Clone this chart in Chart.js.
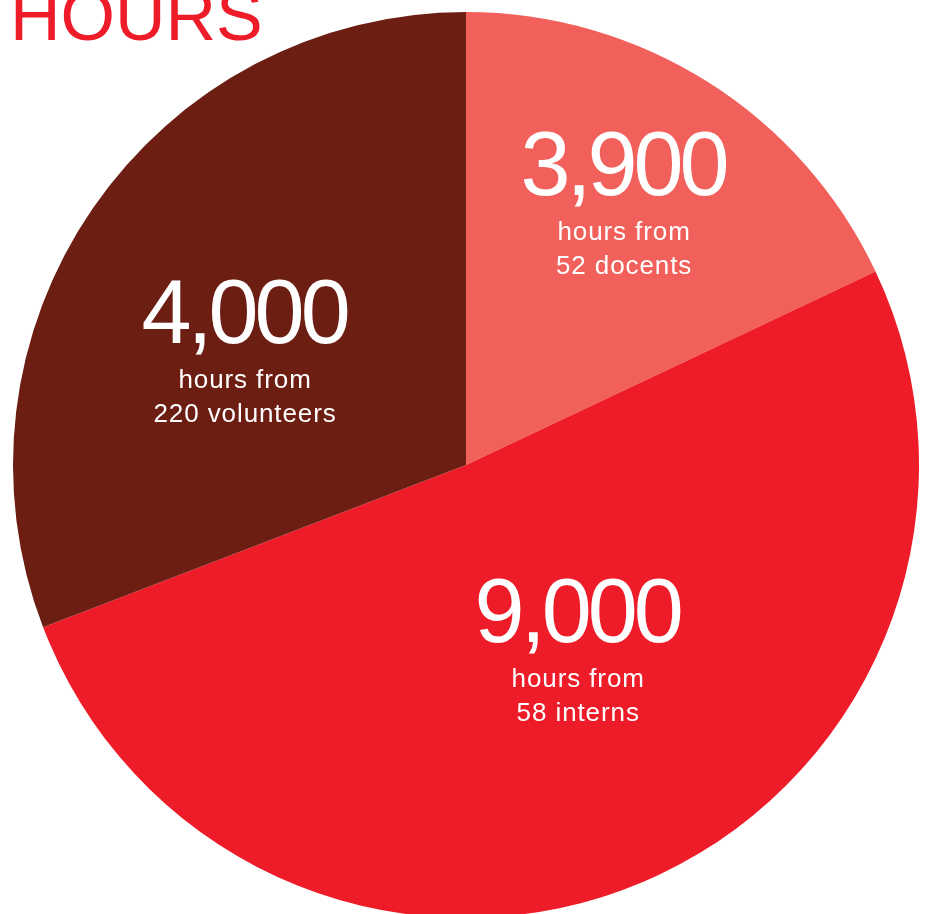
<!DOCTYPE html>
<html>
<head>
<meta charset="utf-8">
<script src="https://cdn.jsdelivr.net/npm/chart.js@4"></script>
<style>
  html, body { margin: 0; padding: 0; background: #ffffff; overflow: hidden; }
  #wrap { position: absolute; left: 0; top: 0; width: 928px; height: 920px; }
</style>
</head>
<body>
<div id="wrap"><canvas id="c"></canvas></div>
<script>
// ---- data ----
const titleText = "HOURS";
const categories = ["docents", "interns", "volunteers"];
const hoursLabels = ["3,900", "9,000", "4,000"];          // numbers printed on slices
const countLabels = ["52 docents", "58 interns", "220 volunteers"];
// slice sizes as drawn in the picture (degrees of the circle)
const sliceDegrees = [64.7, 184.3, 111.0];
const sliceColors = ["#F1605A", "#ED1C28", "#6C1E13"];

const labelPlugin = {
  id: 'sliceLabels',
  afterDraw(chart, args, opts) {
    const ctx = chart.ctx;
    // title
    ctx.save();
    ctx.fillStyle = opts.titleColor;
    ctx.font = opts.titleFont;
    ctx.textAlign = 'left';
    ctx.textBaseline = 'alphabetic';
    ctx.fillText(titleText, opts.titleX, opts.titleY);
    ctx.restore();

    const meta = chart.getDatasetMeta(0);
    meta.data.forEach((arc, i) => {
      const p = arc.getProps(['x', 'y', 'startAngle', 'endAngle', 'outerRadius'], true);
      const mid = (p.startAngle + p.endAngle) / 2 + opts.angleShift[i] * Math.PI / 180;
      const r = p.outerRadius * opts.radiusFrac[i];
      const x = p.x + r * Math.cos(mid);
      const y = p.y + r * Math.sin(mid);
      ctx.save();
      ctx.fillStyle = '#ffffff';
      ctx.textAlign = 'center';
      ctx.textBaseline = 'alphabetic';
      ctx.font = opts.bigFont;
      ctx.letterSpacing = opts.bigSpacing;
      ctx.fillText(hoursLabels[i], x + 1, y);
      ctx.font = opts.smallFont;
      ctx.letterSpacing = opts.smallSpacing;
      ctx.fillText('hours from', x + 2, y + 45);
      ctx.fillText(countLabels[i], x + 2, y + 79);
      ctx.restore();
    });
  }
};

new Chart(document.getElementById('c'), {
  type: 'pie',
  data: {
    labels: categories,
    datasets: [{
      data: sliceDegrees,
      backgroundColor: sliceColors,
      borderWidth: 0,
      hoverOffset: 0
    }]
  },
  options: {
    responsive: true,
    maintainAspectRatio: false,
    animation: false,
    events: [],
    layout: { padding: { left: 13, right: 9, top: 12, bottom: 2 } },
    plugins: {
      legend: { display: false },
      tooltip: { enabled: false },
      title: { display: false },
      sliceLabels: {
        titleColor: '#ED1C28',
        titleFont: '70px "Liberation Sans", Arial, sans-serif',
        titleX: 10,
        titleY: 40,
        bigFont: '90px "Liberation Sans", Arial, sans-serif',
        bigSpacing: '-4px',
        smallFont: '26px "Liberation Sans", Arial, sans-serif',
        smallSpacing: '0.9px',
        angleShift: [-2.35, -8.7, -5.8],
        radiusFrac: [0.689, 0.461, 0.561]
      }
    }
  },
  plugins: [labelPlugin]
});
</script>
</body>
</html>
